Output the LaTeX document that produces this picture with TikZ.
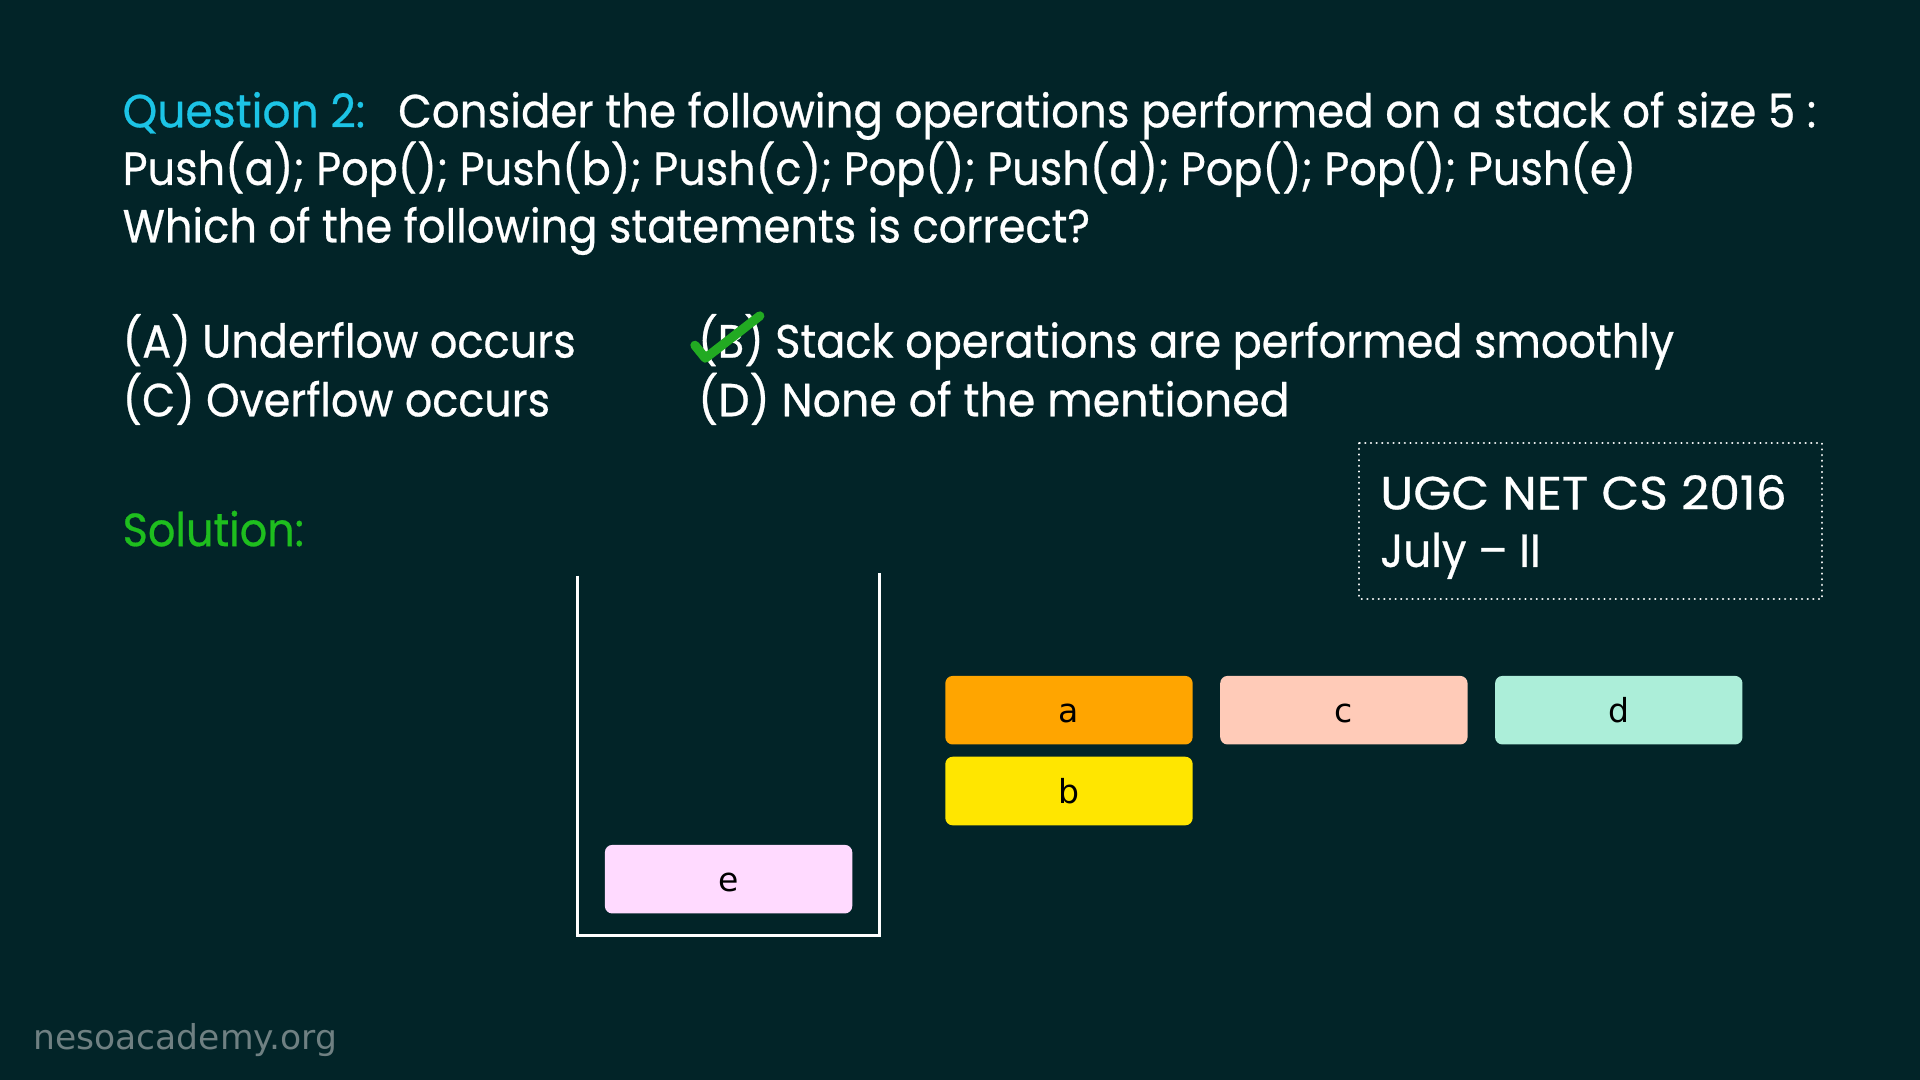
\documentclass[tikz,border=0pt]{standalone}
\usepackage{fontspec}
\usepackage{graphicx}
\setmainfont{Poppins}[FakeBold=0.6]
\newfontfamily\boxfont{DejaVu Sans}
\definecolor{bgc}{HTML}{022428}
\definecolor{qcyan}{HTML}{1CC4E6}
\definecolor{solgreen}{HTML}{1EBE1E}
\definecolor{tickgreen}{HTML}{22AA22}
\definecolor{wmgray}{HTML}{6F8082}
\definecolor{ca}{HTML}{FFA500}
\definecolor{cb}{HTML}{FFE600}
\definecolor{cc}{HTML}{FFCBB8}
\definecolor{cd}{HTML}{ACEED9}
\definecolor{ce}{HTML}{FFDAFF}
\newsavebox\fitbox
\newcommand\fitto[2]{\sbox\fitbox{#2}\pgfmathsetmacro\fitr{#1/\wd\fitbox}\scalebox{\fitr}[1]{\usebox\fitbox}}
\tikzset{
  qtext/.style={anchor=base west, inner sep=0pt, text=white, font=\fontsize{38}{38}\selectfont},
  elem/.style={draw=none, rounded corners=6pt, minimum width=202pt, minimum height=56pt, inner sep=0pt, text height=20pt, text depth=0pt, font=\boxfont\fontsize{27}{27}\selectfont, text=black},
}
\begin{document}
\begin{tikzpicture}[x=1pt,y=-1pt]
\fill[bgc] (0,0) rectangle (1568,882);
\useasboundingbox (0,0) rectangle (1568,882);
% question
\node[qtext, text=qcyan] (q) at (100,104) {\fitto{198}{Question 2:}};
\node[qtext] (q1) at (325,104) {\fitto{1158}{Consider the following operations performed on a stack of size 5 :}};
\node[qtext] (q2) at (100,151) {\fitto{1236}{Push(a); Pop(); Push(b); Push(c); Pop(); Push(d); Pop(); Pop(); Push(e)}};
\node[qtext] (q3) at (100,198) {\fitto{790}{Which of the following statements is correct?}};
% options
\node[qtext] (oa) at (100,292) {\fitto{370}{(A) Underflow occurs}};
\node[qtext] (ob) at (570,292) {\fitto{797}{(B) Stack operations are performed smoothly}};
\node[qtext] (oc) at (100,340) {\fitto{349}{(C) Overflow occurs}};
\node[qtext] (od) at (570,340) {\fitto{483}{(D) None of the mentioned}};
% tick
\coordinate (t1) at (567.5,282);
\coordinate (t2) at (576,292.5);
\coordinate (t3) at (620.5,258);
\draw[tickgreen, line width=7.5pt, line cap=round, line join=round] (t1) -- (t2) -- (t3);
% solution
\node[qtext, text=solgreen] (sol) at (100,446) {\fitto{148}{Solution:}};
% exam box
\draw[white, line width=2pt, line cap=round, dash pattern=on 0.01pt off 4.6pt] (1110,362) rectangle (1488,489);
\node[qtext] (ugc1) at (1127,416) {\fitto{332}{UGC NET CS 2016}};
\node[qtext] (ugc2) at (1127,463) {\fitto{131}{July -- II}};
% stack
\coordinate (sl) at (472,470);
\coordinate (sbl) at (472,764);
\coordinate (sbr) at (718,764);
\coordinate (sr) at (718,468);
\draw[white, line width=2.5pt] (sl) -- (sbl) -- (sbr) -- (sr);
% elements
\node[elem, fill=ce] (e) at (595,718) {e};
\node[elem, fill=ca] (a) at (873,580) {a};
\node[elem, fill=cb] (b) at (873,646) {b};
\node[elem, fill=cc] (c) at (1097.5,580) {c};
\node[elem, fill=cd] (d) at (1322,580) {d};
% watermark
\node[anchor=base west, inner sep=0pt, text=wmgray, font=\boxfont\fontsize{28}{28}\selectfont] (wm) at (27,857) {\fitto{248}{nesoacademy.org}};
\end{tikzpicture}
\end{document}
